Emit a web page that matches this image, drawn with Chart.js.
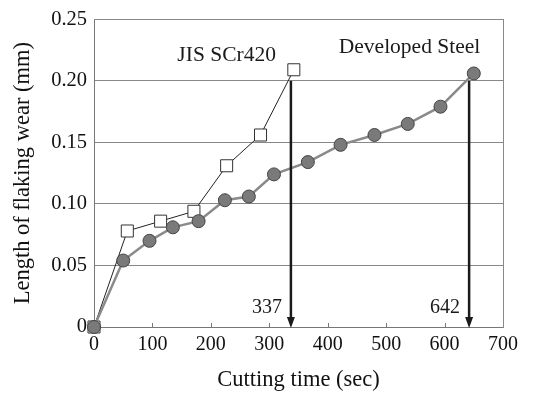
<!DOCTYPE html>
<html>
<head>
<meta charset="utf-8">
<script src="https://cdn.jsdelivr.net/npm/chart.js@4"></script>
<style>
html,body{margin:0;padding:0;background:#fff;}
#wrap{width:537px;height:394px;}
</style>
</head>
<body>
<div id="wrap"><canvas id="c" width="537" height="394"></canvas></div>
<script>
const jisTime = [0, 57, 114, 171, 227, 285, 342];
const jisWear = [0, 0.078, 0.086, 0.094, 0.131, 0.156, 0.209];
const devTime = [0, 50, 95, 135, 179, 224, 265, 308, 366, 422, 480, 537, 593, 650];
const devWear = [0, 0.054, 0.070, 0.081, 0.086, 0.103, 0.106, 0.124, 0.134, 0.148, 0.156, 0.165, 0.179, 0.206];
const xTicks = [0, 100, 200, 300, 400, 500, 600, 700];
const yTicks = [0, 0.05, 0.10, 0.15, 0.20, 0.25];
const arrowAt = [337, 642];
const arrowLabels = ['337', '642'];
const arrowTop = 0.20;
const seriesNames = ['JIS SCr420', 'Developed Steel'];
const namePos = [[227, 0.2205], [540, 0.2275]];

const FONT = '"Liberation Serif", "Times New Roman", serif';

const toPts = (xs, ys) => xs.map((x, i) => ({x: x, y: ys[i]}));

const overlay = {
  id: 'overlay',
  afterDatasetsDraw(chart) {
    const ctx = chart.ctx;
    const xs = chart.scales.x, ys = chart.scales.y;
    const y0 = ys.getPixelForValue(0);
    ctx.save();
    // inward x tick marks
    ctx.strokeStyle = '#777';
    ctx.lineWidth = 1;
    xTicks.forEach(v => {
      if (v === 0 || v === 700) return;
      const px = Math.round(xs.getPixelForValue(v)) + 0.5;
      ctx.beginPath();
      ctx.moveTo(px, y0);
      ctx.lineTo(px, y0 - 4);
      ctx.stroke();
    });
    // arrows
    ctx.strokeStyle = '#1a1a1a';
    ctx.fillStyle = '#1a1a1a';
    ctx.lineWidth = 2.5;
    arrowAt.forEach((v, i) => {
      const px = xs.getPixelForValue(v);
      const pt = ys.getPixelForValue(arrowTop);
      ctx.beginPath();
      ctx.moveTo(px, pt);
      ctx.lineTo(px, y0 - 8);
      ctx.stroke();
      ctx.beginPath();
      ctx.moveTo(px - 4, y0 - 10);
      ctx.lineTo(px + 4, y0 - 10);
      ctx.lineTo(px, y0 + 1);
      ctx.closePath();
      ctx.fill();
      ctx.font = '20px ' + FONT;
      ctx.textAlign = 'right';
      ctx.textBaseline = 'middle';
      ctx.fillText(arrowLabels[i], px - 9, y0 - 19);
    });
    // series names
    ctx.font = '21.5px ' + FONT;
    ctx.textAlign = 'center';
    ctx.textBaseline = 'middle';
    namePos.forEach((p, i) => {
      ctx.fillText(seriesNames[i], xs.getPixelForValue(p[0]), ys.getPixelForValue(p[1]));
    });
    ctx.restore();
  }
};

new Chart(document.getElementById('c'), {
  type: 'scatter',
  data: {
    datasets: [
      {
        label: seriesNames[1],
        data: toPts(devTime, devWear),
        showLine: true,
        borderColor: '#8a8a8a',
        borderWidth: 2.5,
        pointStyle: 'circle',
        pointRadius: 6.5,
        pointBackgroundColor: '#7a7a7a',
        pointBorderColor: '#444',
        pointBorderWidth: 1,
        clip: false
      },
      {
        label: seriesNames[0],
        data: toPts(jisTime, jisWear),
        showLine: true,
        borderColor: '#222',
        borderWidth: 1,
        pointStyle: 'rect',
        pointRadius: 8.5,
        pointBackgroundColor: '#fff',
        pointBorderColor: '#333',
        pointBorderWidth: 1,
        clip: false
      }
    ]
  },
  options: {
    responsive: false,
    animation: false,
    events: [],
    layout: {padding: {left: 8, right: 34, top: 15, bottom: 0}},
    plugins: {legend: {display: false}, tooltip: {enabled: false}},
    scales: {
      x: {
        type: 'linear',
        min: 0, max: 700,
        afterBuildTicks: s => { s.ticks = xTicks.map(v => ({value: v})); },
        afterFit: s => { s.height = 67; },
        grid: {display: false, drawTicks: false},
        border: {display: true, color: '#777', width: 1},
        ticks: {color: '#111', font: {family: FONT, size: 20}, padding: 6, maxRotation: 0},
        title: {display: true, text: 'Cutting time (sec)', color: '#111', font: {family: FONT, size: 22.5}, padding: {top: 2, bottom: 0}}
      },
      y: {
        type: 'linear',
        min: 0, max: 0.25,
        afterBuildTicks: s => { s.ticks = yTicks.map(v => ({value: v})); },
        afterFit: s => { s.width = 86; },
        grid: {color: '#888', lineWidth: 1, drawTicks: false},
        border: {display: true, color: '#777', width: 1},
        ticks: {color: '#111', font: {family: FONT, size: 20.5}, padding: 7,
          callback: v => v === 0 ? '0' : v.toFixed(2)},
        title: {display: true, text: 'Length of flaking wear (mm)', color: '#111', font: {family: FONT, size: 22.5}, padding: {top: 2, bottom: 2}}
      },
      x2: {
        type: 'linear', position: 'top', min: 0, max: 700,
        grid: {display: false, drawTicks: false},
        border: {display: true, color: '#888', width: 1},
        ticks: {display: false},
        afterFit: s => { s.height = 0; }
      },
      y2: {
        type: 'linear', position: 'right', min: 0, max: 0.25,
        grid: {display: false, drawTicks: false},
        border: {display: true, color: '#888', width: 1},
        ticks: {display: false},
        afterFit: s => { s.width = 0; }
      }
    }
  },
  plugins: [overlay]
});
</script>
</body>
</html>
